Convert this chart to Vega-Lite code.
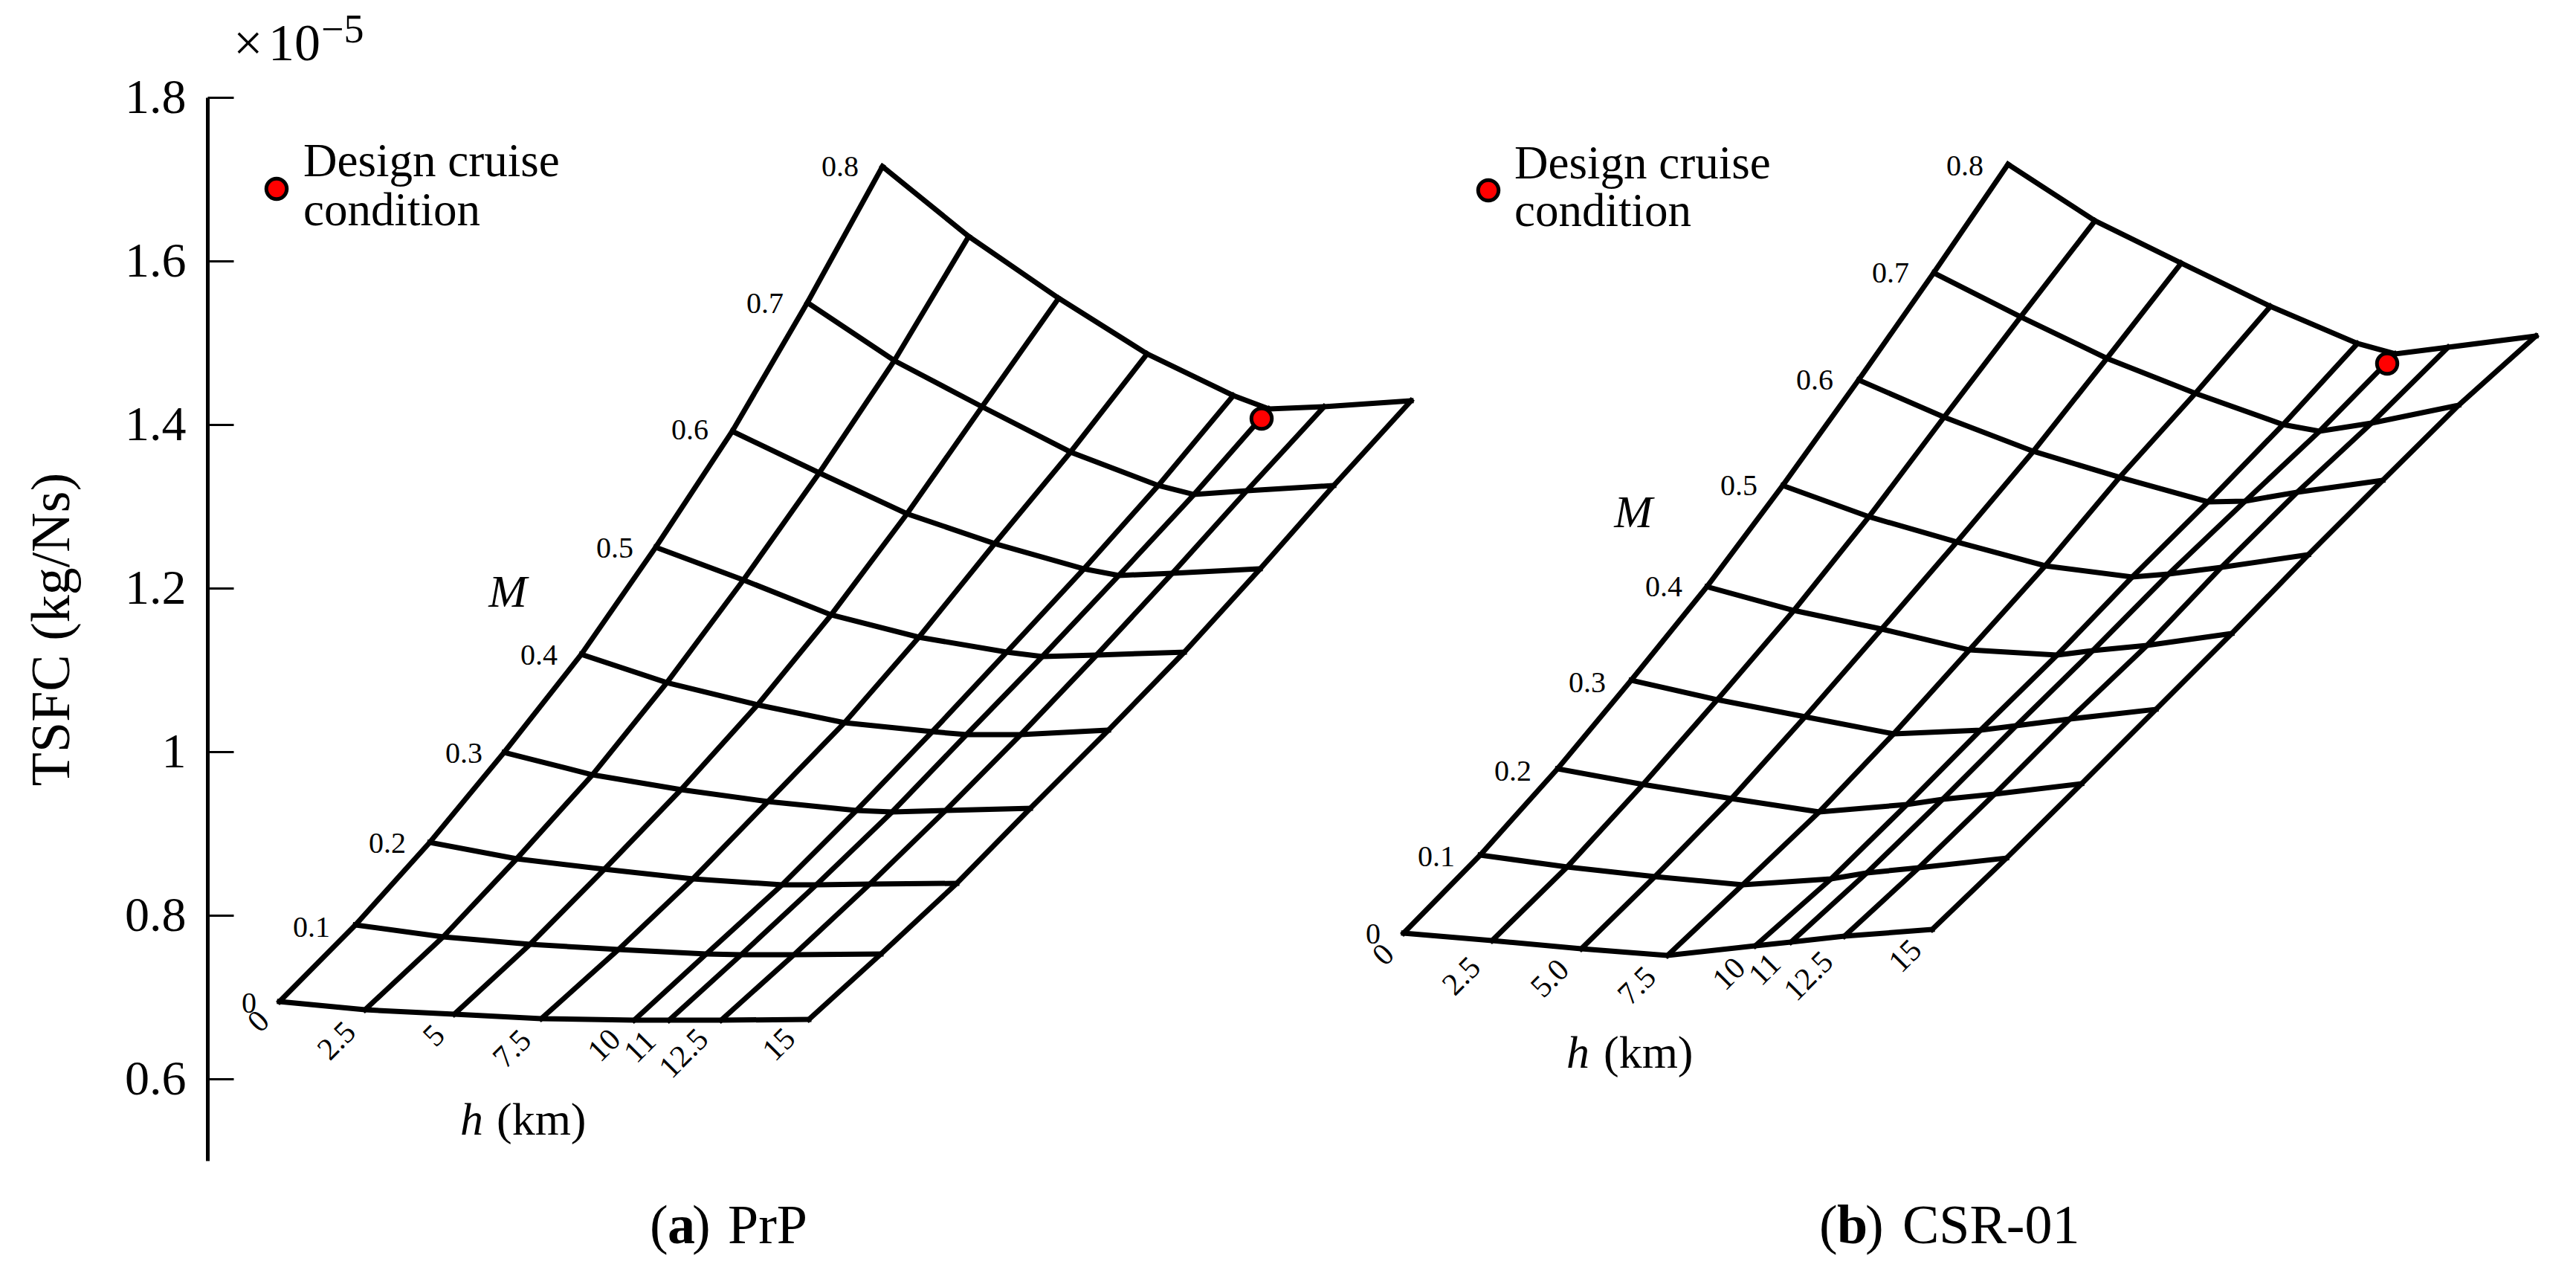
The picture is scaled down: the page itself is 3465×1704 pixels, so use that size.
{"$schema":"https://vega.github.io/schema/vega-lite/v6.json","width":3186,"height":1430,"autosize":{"type":"none"},"padding":{"left":279,"top":131,"right":0,"bottom":143},"background":"white","config":{"view":{"stroke":null},"text":{"font":"Liberation Serif","color":"black"}},
"datasets":{"grid":[
{"panel":"a","M":0,"h":0,"x":376,"tsfc":0.6945},{"panel":"a","M":0,"h":2.5,"x":491,"tsfc":0.6845},{"panel":"a","M":0,"h":5,"x":611,"tsfc":0.6791},{"panel":"a","M":0,"h":7.5,"x":728,"tsfc":0.6736},{"panel":"a","M":0,"h":10,"x":853,"tsfc":0.6718},{"panel":"a","M":0,"h":11,"x":900,"tsfc":0.6718},{"panel":"a","M":0,"h":12.5,"x":970,"tsfc":0.6718},{"panel":"a","M":0,"h":15,"x":1088,"tsfc":0.6727},
{"panel":"a","M":0.1,"h":0,"x":478,"tsfc":0.7882},{"panel":"a","M":0.1,"h":2.5,"x":596,"tsfc":0.7736},{"panel":"a","M":0.1,"h":5,"x":713,"tsfc":0.7645},{"panel":"a","M":0.1,"h":7.5,"x":832,"tsfc":0.7582},{"panel":"a","M":0.1,"h":10,"x":950,"tsfc":0.7527},{"panel":"a","M":0.1,"h":11,"x":997,"tsfc":0.7518},{"panel":"a","M":0.1,"h":12.5,"x":1068,"tsfc":0.7518},{"panel":"a","M":0.1,"h":15,"x":1185,"tsfc":0.7527},
{"panel":"a","M":0.2,"h":0,"x":578,"tsfc":0.8891},{"panel":"a","M":0.2,"h":2.5,"x":695,"tsfc":0.8691},{"panel":"a","M":0.2,"h":5,"x":813,"tsfc":0.8564},{"panel":"a","M":0.2,"h":7.5,"x":932,"tsfc":0.8445},{"panel":"a","M":0.2,"h":10,"x":1052,"tsfc":0.8373},{"panel":"a","M":0.2,"h":11,"x":1098,"tsfc":0.8373},{"panel":"a","M":0.2,"h":12.5,"x":1170,"tsfc":0.8382},{"panel":"a","M":0.2,"h":15,"x":1287,"tsfc":0.8391},
{"panel":"a","M":0.3,"h":0,"x":678,"tsfc":0.9991},{"panel":"a","M":0.3,"h":2.5,"x":797,"tsfc":0.9718},{"panel":"a","M":0.3,"h":5,"x":916,"tsfc":0.9536},{"panel":"a","M":0.3,"h":7.5,"x":1033,"tsfc":0.9391},{"panel":"a","M":0.3,"h":10,"x":1152,"tsfc":0.9282},{"panel":"a","M":0.3,"h":11,"x":1200,"tsfc":0.9264},{"panel":"a","M":0.3,"h":12.5,"x":1272,"tsfc":0.9282},{"panel":"a","M":0.3,"h":15,"x":1386,"tsfc":0.9309},
{"panel":"a","M":0.4,"h":0,"x":782,"tsfc":1.1191},{"panel":"a","M":0.4,"h":2.5,"x":897,"tsfc":1.0845},{"panel":"a","M":0.4,"h":5,"x":1019,"tsfc":1.0573},{"panel":"a","M":0.4,"h":7.5,"x":1136,"tsfc":1.0355},{"panel":"a","M":0.4,"h":10,"x":1254,"tsfc":1.0245},{"panel":"a","M":0.4,"h":11,"x":1300,"tsfc":1.0209},{"panel":"a","M":0.4,"h":12.5,"x":1373,"tsfc":1.0209},{"panel":"a","M":0.4,"h":15,"x":1491,"tsfc":1.0264},
{"panel":"a","M":0.5,"h":0,"x":882,"tsfc":1.25},{"panel":"a","M":0.5,"h":2.5,"x":1000,"tsfc":1.21},{"panel":"a","M":0.5,"h":5,"x":1118,"tsfc":1.1673},{"panel":"a","M":0.5,"h":7.5,"x":1236,"tsfc":1.14},{"panel":"a","M":0.5,"h":10,"x":1354,"tsfc":1.1218},{"panel":"a","M":0.5,"h":11,"x":1402,"tsfc":1.1164},{"panel":"a","M":0.5,"h":12.5,"x":1475,"tsfc":1.1182},{"panel":"a","M":0.5,"h":15,"x":1593,"tsfc":1.1218},
{"panel":"a","M":0.6,"h":0,"x":985,"tsfc":1.3918},{"panel":"a","M":0.6,"h":2.5,"x":1102,"tsfc":1.3409},{"panel":"a","M":0.6,"h":5,"x":1220,"tsfc":1.2909},{"panel":"a","M":0.6,"h":7.5,"x":1338,"tsfc":1.2545},{"panel":"a","M":0.6,"h":10,"x":1458,"tsfc":1.2236},{"panel":"a","M":0.6,"h":11,"x":1505,"tsfc":1.2155},{"panel":"a","M":0.6,"h":12.5,"x":1577,"tsfc":1.2182},{"panel":"a","M":0.6,"h":15,"x":1695,"tsfc":1.2236},
{"panel":"a","M":0.7,"h":0,"x":1086,"tsfc":1.5491},{"panel":"a","M":0.7,"h":2.5,"x":1203,"tsfc":1.4782},{"panel":"a","M":0.7,"h":5,"x":1321,"tsfc":1.4218},{"panel":"a","M":0.7,"h":7.5,"x":1440,"tsfc":1.3664},{"panel":"a","M":0.7,"h":10,"x":1558,"tsfc":1.3255},{"panel":"a","M":0.7,"h":11,"x":1606,"tsfc":1.3145},{"panel":"a","M":0.7,"h":12.5,"x":1677,"tsfc":1.3191},{"panel":"a","M":0.7,"h":15,"x":1794,"tsfc":1.3255},
{"panel":"a","M":0.8,"h":0,"x":1187,"tsfc":1.7155},{"panel":"a","M":0.8,"h":2.5,"x":1303,"tsfc":1.63},{"panel":"a","M":0.8,"h":5,"x":1424,"tsfc":1.5545},{"panel":"a","M":0.8,"h":7.5,"x":1543,"tsfc":1.4864},{"panel":"a","M":0.8,"h":10,"x":1659,"tsfc":1.4355},{"panel":"a","M":0.8,"h":11,"x":1707,"tsfc":1.4191},{"panel":"a","M":0.8,"h":12.5,"x":1781,"tsfc":1.4218},{"panel":"a","M":0.8,"h":15,"x":1898,"tsfc":1.4291},
{"panel":"b","M":0,"h":0,"x":1888,"tsfc":0.7782},{"panel":"b","M":0,"h":2.5,"x":2007,"tsfc":0.7691},{"panel":"b","M":0,"h":5,"x":2127,"tsfc":0.7591},{"panel":"b","M":0,"h":7.5,"x":2243,"tsfc":0.7509},{"panel":"b","M":0,"h":10,"x":2361,"tsfc":0.7627},{"panel":"b","M":0,"h":11,"x":2409,"tsfc":0.7673},{"panel":"b","M":0,"h":12.5,"x":2481,"tsfc":0.7745},{"panel":"b","M":0,"h":15,"x":2599,"tsfc":0.7827},
{"panel":"b","M":0.1,"h":0,"x":1991,"tsfc":0.8736},{"panel":"b","M":0.1,"h":2.5,"x":2108,"tsfc":0.8591},{"panel":"b","M":0.1,"h":5,"x":2226,"tsfc":0.8473},{"panel":"b","M":0.1,"h":7.5,"x":2344,"tsfc":0.8373},{"panel":"b","M":0.1,"h":10,"x":2463,"tsfc":0.8445},{"panel":"b","M":0.1,"h":11,"x":2511,"tsfc":0.8518},{"panel":"b","M":0.1,"h":12.5,"x":2581,"tsfc":0.8582},{"panel":"b","M":0.1,"h":15,"x":2699,"tsfc":0.87},
{"panel":"b","M":0.2,"h":0,"x":2095,"tsfc":0.9791},{"panel":"b","M":0.2,"h":2.5,"x":2210,"tsfc":0.96},{"panel":"b","M":0.2,"h":5,"x":2329,"tsfc":0.9427},{"panel":"b","M":0.2,"h":7.5,"x":2447,"tsfc":0.9264},{"panel":"b","M":0.2,"h":10,"x":2565,"tsfc":0.9355},{"panel":"b","M":0.2,"h":11,"x":2613,"tsfc":0.9418},{"panel":"b","M":0.2,"h":12.5,"x":2683,"tsfc":0.9482},{"panel":"b","M":0.2,"h":15,"x":2800,"tsfc":0.9609},
{"panel":"b","M":0.3,"h":0,"x":2194,"tsfc":1.0873},{"panel":"b","M":0.3,"h":2.5,"x":2310,"tsfc":1.0636},{"panel":"b","M":0.3,"h":5,"x":2428,"tsfc":1.0427},{"panel":"b","M":0.3,"h":7.5,"x":2547,"tsfc":1.0218},{"panel":"b","M":0.3,"h":10,"x":2664,"tsfc":1.0264},{"panel":"b","M":0.3,"h":11,"x":2712,"tsfc":1.0318},{"panel":"b","M":0.3,"h":12.5,"x":2784,"tsfc":1.04},{"panel":"b","M":0.3,"h":15,"x":2900,"tsfc":1.0518},
{"panel":"b","M":0.4,"h":0,"x":2296,"tsfc":1.2018},{"panel":"b","M":0.4,"h":2.5,"x":2413,"tsfc":1.1727},{"panel":"b","M":0.4,"h":5,"x":2531,"tsfc":1.15},{"panel":"b","M":0.4,"h":7.5,"x":2649,"tsfc":1.1245},{"panel":"b","M":0.4,"h":10,"x":2767,"tsfc":1.1182},{"panel":"b","M":0.4,"h":11,"x":2815,"tsfc":1.1236},{"panel":"b","M":0.4,"h":12.5,"x":2888,"tsfc":1.13},{"panel":"b","M":0.4,"h":15,"x":3002,"tsfc":1.1445},
{"panel":"b","M":0.5,"h":0,"x":2398,"tsfc":1.3255},{"panel":"b","M":0.5,"h":2.5,"x":2514,"tsfc":1.2873},{"panel":"b","M":0.5,"h":5,"x":2632,"tsfc":1.2564},{"panel":"b","M":0.5,"h":7.5,"x":2751,"tsfc":1.2273},{"panel":"b","M":0.5,"h":10,"x":2868,"tsfc":1.2136},{"panel":"b","M":0.5,"h":11,"x":2917,"tsfc":1.2173},{"panel":"b","M":0.5,"h":12.5,"x":2988,"tsfc":1.2255},{"panel":"b","M":0.5,"h":15,"x":3105,"tsfc":1.2409},
{"panel":"b","M":0.6,"h":0,"x":2500,"tsfc":1.4545},{"panel":"b","M":0.6,"h":2.5,"x":2615,"tsfc":1.4091},{"panel":"b","M":0.6,"h":5,"x":2735,"tsfc":1.3673},{"panel":"b","M":0.6,"h":7.5,"x":2851,"tsfc":1.3355},{"panel":"b","M":0.6,"h":10,"x":2970,"tsfc":1.3055},{"panel":"b","M":0.6,"h":11,"x":3020,"tsfc":1.3064},{"panel":"b","M":0.6,"h":12.5,"x":3090,"tsfc":1.3173},{"panel":"b","M":0.6,"h":15,"x":3205,"tsfc":1.3318},
{"panel":"b","M":0.7,"h":0,"x":2601,"tsfc":1.5855},{"panel":"b","M":0.7,"h":2.5,"x":2718,"tsfc":1.5318},{"panel":"b","M":0.7,"h":5,"x":2834,"tsfc":1.4809},{"panel":"b","M":0.7,"h":7.5,"x":2953,"tsfc":1.4382},{"panel":"b","M":0.7,"h":10,"x":3071,"tsfc":1.4},{"panel":"b","M":0.7,"h":11,"x":3120,"tsfc":1.3918},{"panel":"b","M":0.7,"h":12.5,"x":3190,"tsfc":1.4018},{"panel":"b","M":0.7,"h":15,"x":3307,"tsfc":1.4236},
{"panel":"b","M":0.8,"h":0,"x":2701,"tsfc":1.7182},{"panel":"b","M":0.8,"h":2.5,"x":2818,"tsfc":1.6491},{"panel":"b","M":0.8,"h":5,"x":2934,"tsfc":1.5973},{"panel":"b","M":0.8,"h":7.5,"x":3054,"tsfc":1.5445},{"panel":"b","M":0.8,"h":10,"x":3171,"tsfc":1.4991},{"panel":"b","M":0.8,"h":11,"x":3222,"tsfc":1.4864},{"panel":"b","M":0.8,"h":12.5,"x":3293,"tsfc":1.4945},{"panel":"b","M":0.8,"h":15,"x":3411,"tsfc":1.5082}
],
"points":[{"panel":"a","x":1697,"tsfc":1.4073},{"panel":"b","x":3211,"tsfc":1.4745},{"panel":"a","x":372,"tsfc":1.6882},{"panel":"b","x":2002,"tsfc":1.6864}],
"labels":[
{"kind":"note","t":"Design cruise","x":408,"tsfc":1.7035},{"kind":"note","t":"condition","x":408,"tsfc":1.6435},{"kind":"note","t":"Design cruise","x":2037,"tsfc":1.7012},{"kind":"note","t":"condition","x":2037,"tsfc":1.6425},
{"kind":"mach","t":"0.8","x":1130,"tsfc":1.7036},{"kind":"mach","t":"0.7","x":1029,"tsfc":1.5364},{"kind":"mach","t":"0.6","x":928,"tsfc":1.3818},{"kind":"mach","t":"0.5","x":827,"tsfc":1.2373},{"kind":"mach","t":"0.4","x":725,"tsfc":1.1064},{"kind":"mach","t":"0.3","x":624,"tsfc":0.9864},{"kind":"mach","t":"0.2","x":521,"tsfc":0.8764},{"kind":"mach","t":"0.1","x":419,"tsfc":0.7736},{"kind":"mach","t":"0","x":335,"tsfc":0.6809},
{"kind":"mach","t":"0.8","x":2643,"tsfc":1.7045},{"kind":"mach","t":"0.7","x":2543,"tsfc":1.5736},{"kind":"mach","t":"0.6","x":2441,"tsfc":1.4427},{"kind":"mach","t":"0.5","x":2339,"tsfc":1.3136},{"kind":"mach","t":"0.4","x":2238,"tsfc":1.19},{"kind":"mach","t":"0.3","x":2135,"tsfc":1.0727},{"kind":"mach","t":"0.2","x":2035,"tsfc":0.9645},{"kind":"mach","t":"0.1","x":1932,"tsfc":0.86},{"kind":"mach","t":"0","x":1847,"tsfc":0.7655},
{"kind":"alt","t":"0","x":348,"tsfc":0.67},{"kind":"alt","t":"2.5","x":453,"tsfc":0.6464},{"kind":"alt","t":"5","x":584,"tsfc":0.6527},{"kind":"alt","t":"7.5","x":689,"tsfc":0.6364},{"kind":"alt","t":"10","x":813,"tsfc":0.6409},{"kind":"alt","t":"11","x":861,"tsfc":0.6391},{"kind":"alt","t":"12.5","x":920,"tsfc":0.6309},{"kind":"alt","t":"15","x":1048,"tsfc":0.6418},
{"kind":"alt","t":"0","x":1861,"tsfc":0.7518},{"kind":"alt","t":"2.5","x":1966,"tsfc":0.7255},{"kind":"alt","t":"5.0","x":2085,"tsfc":0.7227},{"kind":"alt","t":"7.5","x":2202,"tsfc":0.7136},{"kind":"alt","t":"10","x":2326,"tsfc":0.7282},{"kind":"alt","t":"11","x":2374,"tsfc":0.7336},{"kind":"alt","t":"12.5","x":2433,"tsfc":0.7255},{"kind":"alt","t":"15","x":2563,"tsfc":0.75},
{"kind":"symbol","t":"M","x":683,"tsfc":1.1773},{"kind":"symbol","t":"M","x":2197,"tsfc":1.2745},
{"kind":"hsym","t":"h","x":619,"tsfc":0.5318},{"kind":"hsym","t":"h","x":2107,"tsfc":0.6136},
{"kind":"unit","t":"(km)","x":668,"tsfc":0.5318},{"kind":"unit","t":"(km)","x":2157,"tsfc":0.6136},
{"kind":"caption","t":"(","x":874,"tsfc":0.3991},{"kind":"capbold","t":"a","x":898,"tsfc":0.3991},{"kind":"caption","t":")","x":931,"tsfc":0.3991},{"kind":"caption","t":"PrP","x":979,"tsfc":0.3991},
{"kind":"caption","t":"(","x":2447,"tsfc":0.3991},{"kind":"capbold","t":"b","x":2471,"tsfc":0.3991},{"kind":"caption","t":")","x":2509,"tsfc":0.3991},{"kind":"caption","t":"CSR-01","x":2559,"tsfc":0.3991},
{"kind":"scale","t":"×","x":314,"tsfc":1.8455},{"kind":"scale","t":"10","x":361,"tsfc":1.8455},{"kind":"exp","t":"−5","x":432,"tsfc":1.8673}
]},
"encoding":{"x":{"field":"x","type":"quantitative","scale":{"domain":[279,3465],"nice":false,"zero":false},"axis":null},"y":{"field":"tsfc","type":"quantitative","scale":{"domain":[0.5,1.8],"nice":false,"zero":false},"axis":{"title":"TSFC (kg/Ns)","titleFont":"Liberation Serif","titleFontSize":74,"titleFontWeight":"normal","titleColor":"black","titlePadding":59,"values":[0.6,0.8,1,1.2,1.4,1.6,1.8],"format":".1~f","labelFont":"Liberation Serif","labelFontSize":66,"labelColor":"black","labelPadding":64,"tickSize":-35,"tickWidth":3,"tickColor":"black","domainWidth":5,"domainColor":"black","grid":false}}},
"layer":[
{"data":{"name":"grid"},"mark":{"type":"line","color":"black","strokeWidth":7,"strokeCap":"square"},"encoding":{"detail":[{"field":"panel"},{"field":"M"}],"order":{"field":"h","type":"quantitative"}}},
{"data":{"name":"grid"},"mark":{"type":"line","color":"black","strokeWidth":7,"strokeCap":"square"},"encoding":{"detail":[{"field":"panel"},{"field":"h"}],"order":{"field":"M","type":"quantitative"}}},
{"data":{"name":"points"},"mark":{"type":"point","filled":false,"shape":"circle","size":755,"fill":"#ff0000","fillOpacity":1,"stroke":"black","strokeWidth":5,"opacity":1}},
{"data":{"name":"labels"},"transform":[{"filter":"datum.kind==='note'"}],"mark":{"type":"text","align":"left","baseline":"alphabetic","fontSize":63},"encoding":{"text":{"field":"t"}}},
{"data":{"name":"labels"},"transform":[{"filter":"datum.kind==='mach'"}],"mark":{"type":"text","align":"center","baseline":"alphabetic","fontSize":40},"encoding":{"text":{"field":"t"}}},
{"data":{"name":"labels"},"transform":[{"filter":"datum.kind==='alt'"}],"mark":{"type":"text","align":"center","baseline":"middle","fontSize":42,"angle":-45},"encoding":{"text":{"field":"t"}}},
{"data":{"name":"labels"},"transform":[{"filter":"datum.kind==='symbol'"}],"mark":{"type":"text","align":"center","baseline":"alphabetic","fontSize":62,"fontStyle":"italic"},"encoding":{"text":{"field":"t"}}},
{"data":{"name":"labels"},"transform":[{"filter":"datum.kind==='hsym'"}],"mark":{"type":"text","align":"left","baseline":"alphabetic","fontSize":62,"fontStyle":"italic"},"encoding":{"text":{"field":"t"}}},
{"data":{"name":"labels"},"transform":[{"filter":"datum.kind==='unit'"}],"mark":{"type":"text","align":"left","baseline":"alphabetic","fontSize":62},"encoding":{"text":{"field":"t"}}},
{"data":{"name":"labels"},"transform":[{"filter":"datum.kind==='caption'"}],"mark":{"type":"text","align":"left","baseline":"alphabetic","fontSize":74},"encoding":{"text":{"field":"t"}}},
{"data":{"name":"labels"},"transform":[{"filter":"datum.kind==='capbold'"}],"mark":{"type":"text","align":"left","baseline":"alphabetic","fontSize":74,"fontWeight":"bold"},"encoding":{"text":{"field":"t"}}},
{"data":{"name":"labels"},"transform":[{"filter":"datum.kind==='scale'"}],"mark":{"type":"text","align":"left","baseline":"alphabetic","fontSize":70},"encoding":{"text":{"field":"t"}}},
{"data":{"name":"labels"},"transform":[{"filter":"datum.kind==='exp'"}],"mark":{"type":"text","align":"left","baseline":"alphabetic","fontSize":54},"encoding":{"text":{"field":"t"}}}
]}
